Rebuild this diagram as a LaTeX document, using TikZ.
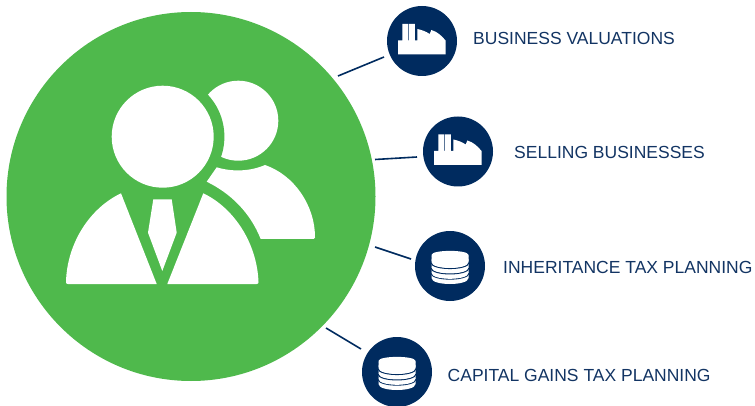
\documentclass[tikz,border=0pt]{standalone}
\usepackage{fontspec}
\setmainfont{Liberation Sans}
\definecolor{leaf}{HTML}{4FB94C}
\definecolor{navy}{HTML}{002B5F}
\definecolor{labelc}{HTML}{123463}
\tikzset{
  iconbg/.style={circle,fill=navy,minimum size=70pt,inner sep=0pt},
  lab/.style={anchor=west,inner sep=0pt,text=labelc,font=\fontsize{17.5}{20}\selectfont},
  link/.style={draw=navy,line width=1.6pt},
  factory/.pic={
    \fill[white] (-24,13.5) -- (-24,-0.5) -- (-19.7,-0.5) -- (-19.7,-17) -- (-13.6,-17) -- (-13.6,-0.5) -- (-12.8,-0.5) -- (-12.8,-17) -- (-7.2,-17) -- (-7.2,-0.5) -- (-4.7,-0.5) -- (-4.7,-12) .. controls (0,-11) and (4,-9.5) .. (7.7,-7) -- (9.3,-11) .. controls (15,-9.5) and (20,-5) .. (23.5,-0.5) -- (23.5,13.5) -- cycle;
  },
  coins/.pic={
    \foreach \yy in {12,6.8,1.4,-4}{
      \fill[white] (-18.5,\yy-5.5) -- (-18.5,\yy) .. controls (-18.5,\yy+8) and (18.5,\yy+8) .. (18.5,\yy) -- (18.5,\yy-5.5) -- cycle;
      \draw[navy,line width=1.3pt] (-19,\yy-5) .. controls (-18.5,\yy+3) and (18.5,\yy+3) .. (19,\yy-5);
    }
    \fill[white] (-18.5,-5.5) -- (-18.5,-11) .. controls (-18.5,-16.5) and (18.5,-16.5) .. (18.5,-11) -- (18.5,-5.5) .. controls (18.5,1.5) and (-18.5,1.5) .. (-18.5,-5.5) -- cycle;
  }
}
\begin{document}
\begin{tikzpicture}[x=1pt,y=-1pt]
\useasboundingbox (0,0) rectangle (755,406);
% main circle
\node[circle,fill=leaf,minimum size=369pt,inner sep=0pt] (main) at (191,196.5) {};
% back person
\fill[white] (238.3,120.7) circle[radius=40];
\fill[leaf] (162.7,136.7) circle[radius=61.7];
\fill[white] (216.7,167.3) .. controls (232,172) and (250,171.5) .. (265,165)
  .. controls (294,175) and (315,205) .. (315,237.5)
  .. controls (315,238.5) and (314.5,239) .. (313.5,239) -- (260.7,239)
  .. controls (250,212) and (230,193) .. (206.7,181.7) -- cycle;
% front person
\fill[white] (162.7,136.7) circle[radius=51];
\fill[white] (121,193.3) -- (156.7,284) -- (68,284) .. controls (66.5,284) and (66,283.3) .. (66,282)
  .. controls (67,243) and (90,208) .. (121,193.3) -- cycle;
\fill[white] (203.3,193.3) -- (167.3,284) -- (256.5,284) .. controls (258,284) and (258.5,283.3) .. (258.5,282)
  .. controls (257,243) and (234,208) .. (203.3,193.3) -- cycle;
\fill[white] (153.3,199.3) -- (171.7,199.3) -- (176.7,232.7) -- (162.3,271) -- (148,232.7) -- cycle;
% icon discs
\node[iconbg] (a) at (422,41) {};
\node[iconbg] (b) at (458,151.5) {};
\node[iconbg] (c) at (450,266) {};
\node[iconbg] (d) at (397,372) {};
\pic at (a) {factory};
\pic at (b) {factory};
\pic at (c) {coins};
\pic at (d) {coins};
% labels
\node[lab] (la) at (473,38.2) {BUSINESS VALUATIONS};
\node[lab] (lb) at (514,152.5) {SELLING BUSINESSES};
\node[lab] (lc) at (503,267) {INHERITANCE TAX PLANNING};
\node[lab] (ld) at (447.5,375) {CAPITAL GAINS TAX PLANNING};
% connectors
\coordinate (a0) at (338,76); \coordinate (a1) at (384,57);
\coordinate (b0) at (375,159.5); \coordinate (b1) at (417,157);
\coordinate (c0) at (375,247); \coordinate (c1) at (411,259);
\coordinate (d0) at (326,328); \coordinate (d1) at (361,349);
\draw[link] (a0) -- (a1);
\draw[link] (b0) -- (b1);
\draw[link] (c0) -- (c1);
\draw[link] (d0) -- (d1);
\end{tikzpicture}
\end{document}
